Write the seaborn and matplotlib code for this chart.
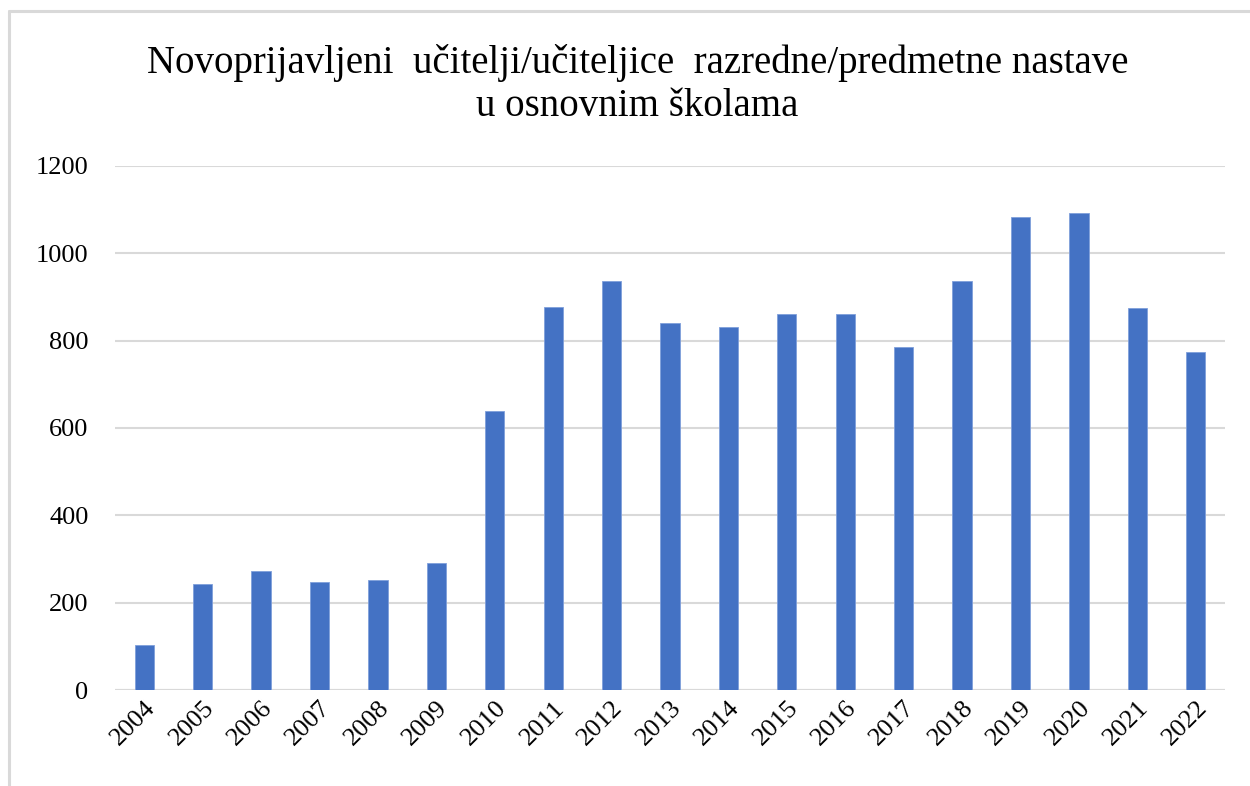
import numpy as np
import pandas as pd
import matplotlib
matplotlib.use("Agg")
import matplotlib.pyplot as plt
import seaborn as sns
from matplotlib.lines import Line2D

years = ["2004", "2005", "2006", "2007", "2008", "2009", "2010", "2011", "2012", "2013",
         "2014", "2015", "2016", "2017", "2018", "2019", "2020", "2021", "2022"]
teachers = [104, 244, 272, 247, 251, 290, 640, 876, 936, 840,
            832, 862, 862, 785, 937, 1084, 1091, 874, 773]
y_ticks = [0, 200, 400, 600, 800, 1000, 1200]

title = "Novoprijavljeni  učitelji/učiteljice  razredne/predmetne nastave\nu osnovnim školama"

sns.set_theme(style="white")
plt.rcParams['font.family'] = ['Liberation Serif', 'DejaVu Serif']

df = pd.DataFrame({"year": years, "count": teachers})

fig = plt.figure(figsize=(12.5, 7.86), dpi=100)
ax = fig.add_axes([0.092, 0.122, 0.888, 0.667])

sns.barplot(data=df, x="year", y="count", color="#4472C4", saturation=1,
            width=0.33, edgecolor="#7F9FDB", linewidth=0.6, ax=ax, zorder=3)

ax.set_ylim(0, 1200)
ax.set_xlim(-0.5, len(years) - 0.5)
ax.set_yticks(y_ticks)
ax.set_yticklabels([str(t) for t in y_ticks], fontsize=19, color="black")
ax.yaxis.grid(True, color="#D9D9D9", linewidth=1.5, zorder=0)
ax.set_axisbelow(True)
for s in ax.spines.values():
    s.set_visible(False)
ax.axhline(0, color="#D9D9D9", linewidth=1.5, zorder=1)
ax.tick_params(axis="y", length=0, pad=19)
ax.tick_params(axis="x", length=0, pad=5)
plt.setp(ax.get_xticklabels(), rotation=45, ha="right", rotation_mode="anchor",
         fontsize=19, color="black")
ax.set_xlabel("")
ax.set_ylabel("")

fig.suptitle(title, x=0.51, y=0.944, fontsize=28, linespacing=1.22, color="black")

# light frame on top and left edge
fig.add_artist(Line2D([0.0075, 1.0], [0.9865, 0.9865], color="#D9D9D9", linewidth=2.2,
                      transform=fig.transFigure))
fig.add_artist(Line2D([0.0075, 0.0075], [0.0, 0.9865], color="#D9D9D9", linewidth=2.2,
                      transform=fig.transFigure))

fig.savefig("out.png", dpi=100)
